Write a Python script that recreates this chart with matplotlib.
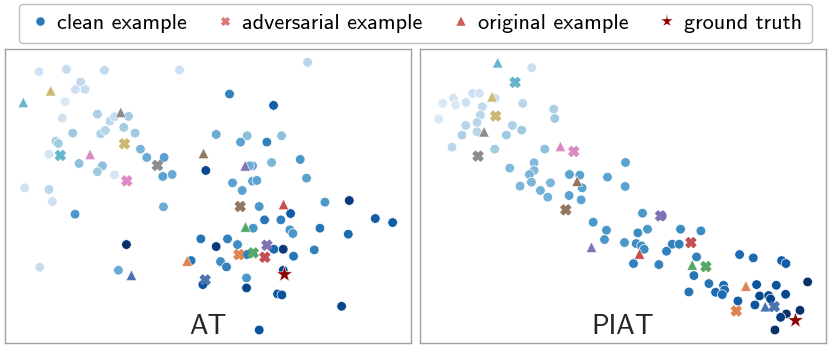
import matplotlib
matplotlib.use("Agg")
import matplotlib.pyplot as plt
from matplotlib.lines import Line2D

# ---------------- data (coordinates in an arbitrary embedding space) -------------
pair_colors = ["#64B5CD", "#CCB974", "#8C8C8C", "#DA8BC3", "#937860",
               "#8172B3", "#C44E52", "#55A868", "#DD8452", "#4C72B0"]

# AT panel
at_clean_x = [117, 199, 313, 538, 922, 242, 226, 255, 195, 187, 292, 330, 343, 385, 371,
              218, 302, 316, 405, 168, 175, 147, 237, 307, 292, 343, 421, 440, 492, 488,
              516, 74, 147, 157, 225, 490, 119, 355, 379, 617, 688, 820, 648, 741, 721,
              800, 844, 900, 814, 757, 748, 919, 697, 726, 757, 770, 974, 1047, 777, 871,
              793, 842, 869, 878, 959, 1044, 1125, 1177, 759, 602, 682, 648, 712, 740, 821,
              849, 880, 942, 573, 661, 679, 739, 608, 739, 849, 832, 845, 1024, 777]
at_clean_y = [80, 73, 76, 75, 52, 111, 133, 133, 170, 219, 207, 228, 215, 214, 247,
              264, 266, 256, 264, 289, 295, 327, 355, 362, 380, 389, 312, 337, 337, 394,
              388, 428, 433, 469, 507, 485, 666, 675, 598, 376, 147, 181, 268, 272, 291,
              291, 272, 343, 352, 362, 362, 399, 413, 436, 408, 406, 471, 466, 484, 505,
              524, 524, 554, 565, 549, 567, 520, 532, 549, 581, 581, 604, 598, 628, 612,
              612, 633, 614, 646, 649, 665, 698, 718, 728, 675, 746, 749, 783, 854]
at_clean_v = [0.10, 0.15, 0.18, 0.12, 0.20, 0.18, 0.12, 0.15, 0.05, 0.10, 0.25, 0.20, 0.15, 0.30, 0.28,
              0.30, 0.25, 0.22, 0.30, 0.30, 0.28, 0.08, 0.35, 0.35, 0.30, 0.08, 0.40, 0.45, 0.50, 0.50,
              0.45, 0.10, 0.20, 0.10, 0.55, 0.45, 0.15, 0.45, 1.00, 0.90, 0.65, 0.80, 0.45, 0.35, 0.50,
              0.65, 0.35, 0.55, 0.40, 0.50, 0.45, 0.50, 0.50, 0.50, 0.50, 0.50, 0.55, 0.95, 0.55, 0.80,
              0.70, 0.65, 0.55, 0.55, 0.70, 0.75, 0.80, 0.80, 0.55, 0.70, 0.65, 0.95, 0.60, 0.65, 0.75,
              0.95, 0.70, 0.65, 0.70, 0.60, 0.65, 0.55, 0.85, 0.90, 0.90, 0.85, 0.85, 0.90, 0.85]
at_orig_x = [70, 152, 362, 270, 610, 735, 850, 736, 561, 394]
at_orig_y = [172, 137, 202, 328, 325, 362, 478, 545, 647, 690]
at_adv_x = [181, 373, 472, 380, 720, 800, 794, 759, 716, 615]
at_adv_y = [331, 296, 361, 407, 484, 600, 636, 623, 628, 704]
at_gt = (851, 687)

# PIAT panel
piat_clean_x = [350, 83, 115, 122, 153, 173, 193, 240, 202, 71, 196, 186, 152, 141, 186,
                292, 320, 274, 323, 416, 419, 111, 239, 389, 284, 357, 357, 343, 349, 406,
                315, 376, 398, 463, 494, 501, 462, 498, 577, 631, 630, 534, 574, 568, 628,
                682, 697, 668, 663, 679, 687, 741, 796, 857, 771, 792, 754, 655, 731, 844,
                836, 821, 881, 901, 925, 928, 921, 973, 1014, 968, 1024, 1083, 1099, 1112, 1033,
                1060, 1066, 1019, 1111, 1177, 1154, 1113, 1096, 1079]
piat_clean_y = [68, 175, 160, 180, 172, 145, 145, 160, 185, 222, 210, 232, 241, 270, 260,
                241, 255, 270, 175, 192, 220, 306, 312, 312, 369, 353, 376, 388, 411, 413,
                423, 436, 456, 388, 390, 428, 451, 464, 396, 352, 424, 531, 555, 583, 592,
                504, 552, 563, 595, 602, 612, 512, 552, 557, 597, 597, 618, 655, 658, 635,
                691, 740, 715, 741, 720, 734, 748, 628, 638, 767, 718, 720, 646, 655, 752,
                751, 761, 779, 747, 710, 795, 806, 816, 854]
piat_clean_v = [0.12, 0.05, 0.08, 0.05, 0.10, 0.12, 0.10, 0.15, 0.18, 0.05, 0.20, 0.20, 0.22, 0.25, 0.20,
                0.25, 0.30, 0.30, 0.20, 0.25, 0.30, 0.20, 0.28, 0.35, 0.38, 0.38, 0.38, 0.40, 0.40, 0.40,
                0.40, 0.42, 0.42, 0.50, 0.50, 0.50, 0.50, 0.50, 0.50, 0.50, 0.50, 0.55, 0.55, 0.55, 0.55,
                0.55, 0.55, 0.60, 0.60, 0.60, 0.60, 0.60, 0.60, 0.60, 0.65, 0.65, 0.65, 0.65, 0.65, 0.65,
                0.70, 0.70, 0.70, 0.75, 0.75, 0.75, 0.75, 0.75, 0.75, 0.80, 0.85, 0.85, 0.80, 0.80, 0.90,
                0.90, 0.90, 0.85, 0.90, 1.00, 1.00, 1.00, 0.95, 1.00]
piat_orig_x = [248, 231, 207, 436, 486, 529, 673, 831, 992, 1050]
piat_orig_y = [53, 155, 260, 304, 408, 606, 626, 659, 722, 784]
piat_adv_x = [300, 242, 189, 476, 452, 736, 827, 872, 963, 1077]
piat_adv_y = [112, 213, 333, 319, 494, 512, 592, 664, 797, 784]
piat_gt = (1140, 823)

titles = ["AT", "PIAT"]
legend_labels = ["clean example", "adversarial example", "original example", "ground truth"]

# ---------------- figure ---------------------------------------------------------
FONT = "cmss10"
W, H = 831, 350
fig = plt.figure(figsize=(W / 100, H / 100), dpi=100)

panels = [
    (at_clean_x, at_clean_y, at_clean_v, at_orig_x, at_orig_y, at_adv_x, at_adv_y, at_gt, 5),
    (piat_clean_x, piat_clean_y, piat_clean_v, piat_orig_x, piat_orig_y, piat_adv_x, piat_adv_y, piat_gt, 420),
]
for (cx, cy, cv, ox, oy, ax_, ay_, gt, left), title in zip(panels, titles):
    ax = fig.add_axes([left / W, 1 - 343 / H, 406 / W, 294 / H])
    ax.scatter(cx, cy, c=cv, cmap="Blues", vmin=-0.12, vmax=1.0, s=48,
               edgecolors="white", linewidths=0.5, zorder=2)
    ax.scatter(ox, oy, c=pair_colors, marker="^", s=58, edgecolors="white",
               linewidths=0.4, zorder=3)
    ax.scatter(ax_, ay_, c=pair_colors, marker="X", s=50, edgecolors=pair_colors,
               linewidths=1.0, zorder=3)
    ax.scatter([gt[0]], [gt[1]], c="#8B0000", marker="*", s=150, edgecolors="white",
               linewidths=0.4, zorder=4)
    ax.set_xlim(15, 1232)
    ax.set_ylim(893, 12)
    ax.set_xticks([])
    ax.set_yticks([])
    for sp in ax.spines.values():
        sp.set_color("#a0a0a0")
        sp.set_linewidth(1.0)
    ax.text(0.5, 0.012, title, transform=ax.transAxes, ha="center", va="bottom",
            fontsize=20, family=FONT, color="#262626")

handles = [
    Line2D([], [], ls="none", marker="o", ms=6.5, color="#2a7ab9", mec="white", mew=0.3),
    Line2D([], [], ls="none", marker="X", ms=6, color="#d9777b", mec="#d9777b", mew=0.6),
    Line2D([], [], ls="none", marker="^", ms=6.5, color="#d05a5e", mec="white", mew=0.3),
    Line2D([], [], ls="none", marker="*", ms=9.5, color="#8B0000", mec="white", mew=0.3),
]
leg = fig.legend(handles, legend_labels, loc="upper center", bbox_to_anchor=(0.5, 0.99),
                 ncol=4, frameon=True, fancybox=True, prop={"family": FONT, "size": 16},
                 handletextpad=0.25, columnspacing=1.25, handlelength=1.0,
                 borderpad=0.45, borderaxespad=0.0, edgecolor="#b0b0b0")
leg.get_frame().set_linewidth(1.0)

fig.savefig("out.png", dpi=100)
